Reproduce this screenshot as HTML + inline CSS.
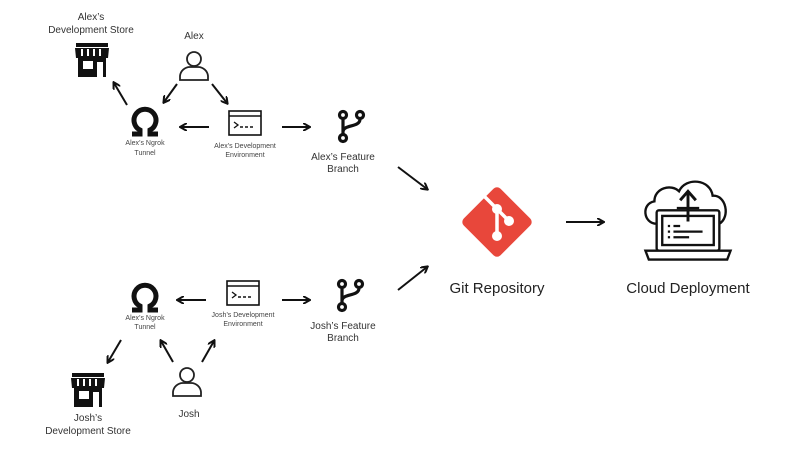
<!DOCTYPE html>
<html><head><meta charset="utf-8"><style>
html,body{margin:0;padding:0;background:#fff;}
svg{display:block;font-family:"Liberation Sans",sans-serif;}
.l{font-size:10px;fill:#333;text-anchor:middle}
.s{font-size:7px;fill:#444;text-anchor:middle}
.b{font-size:15px;fill:#222;text-anchor:middle}
.a{stroke:#111;stroke-width:2;fill:none;marker-end:url(#ah)}
</style></head><body>
<svg width="800" height="450" viewBox="0 0 800 450">
<defs>
<marker id="ah" markerWidth="8" markerHeight="8" refX="6" refY="4" orient="auto" markerUnits="userSpaceOnUse"><path d="M0,0 L7,4 L0,8" fill="none" stroke="#111" stroke-width="2"/></marker>
<g id="store">
 <rect x="-16" y="-17" width="32" height="4" fill="#111"/>
 <path d="M-17,-12 H17 L16,-2 H-16 Z" fill="#111"/>
 <path d="M-10,-11 V-4 M-4,-11 V-4 M2,-11 V-4 M8,-11 V-4" stroke="#fff" stroke-width="2"/>
 <rect x="-14" y="-2" width="28" height="19" fill="#111"/>
 <rect x="-9" y="1" width="10" height="8" fill="#fff"/>
 <rect x="5" y="2" width="6" height="15" fill="#fff"/>
</g>
<g id="person" fill="none" stroke="#222" stroke-width="1.8">
 <circle cx="0" cy="-7" r="7"/>
 <path d="M-14,14 V10 A10,10 0 0 1 -4,1 H4 A10,10 0 0 1 14,10 V14 Z"/>
</g>
<g id="omega">
 <path d="M-13,14 H-5 V10 A11,11 0 1 1 5,10 V14 H13" fill="none" stroke="#111" stroke-width="5"/>
</g>
<g id="term" fill="none" stroke="#111" stroke-width="1.6">
 <rect x="-16" y="-12" width="32" height="24"/>
 <line x1="-16" y1="-7" x2="16" y2="-7"/>
 <path d="M-11,-1 L-7,2 L-11,5" stroke-width="1.3"/>
 <path d="M-5,4 H-2 M0,4 H3 M5,4 H8" stroke-width="1.6"/>
</g>
<g id="branch" fill="none" stroke="#111" stroke-width="3.2">
 <circle cx="-8" cy="-11" r="3.5"/>
 <circle cx="9" cy="-11" r="3.5"/>
 <circle cx="-8" cy="12" r="3.5"/>
 <path d="M-8,-7 V8 M9,-7 C9,2 -8,-2 -8,6"/>
</g>
</defs>

<text class="l" x="91" y="20">Alex’s</text>
<text class="l" x="91" y="33">Development Store</text>
<use href="#store" x="92" y="60"/>
<text class="l" x="194" y="39">Alex</text>
<use href="#person" x="194" y="66"/>
<use href="#omega" x="145" y="120"/>
<use href="#term" x="245" y="123"/>
<text class="s" x="145" y="145">Alex’s Ngrok</text>
<text class="s" x="145" y="155">Tunnel</text>
<text class="s" x="245" y="148">Alex’s Development</text>
<text class="s" x="245" y="157">Environment</text>
<use href="#branch" x="351" y="126"/>
<text class="l" x="343" y="160">Alex’s Feature</text>
<text class="l" x="343" y="172">Branch</text>
<line class="a" x1="177" y1="84" x2="164" y2="102"/>
<line class="a" x1="212" y1="84" x2="227" y2="103"/>
<line class="a" x1="127" y1="105" x2="114" y2="83"/>
<line class="a" x1="209" y1="127" x2="181" y2="127"/>
<line class="a" x1="282" y1="127" x2="309" y2="127"/>
<line class="a" x1="398" y1="167" x2="427" y2="189"/>

<use href="#omega" x="145" y="296"/>
<use href="#term" x="243" y="293"/>
<text class="s" x="145" y="320">Alex’s Ngrok</text>
<text class="s" x="145" y="329">Tunnel</text>
<text class="s" x="243" y="317">Josh’s Development</text>
<text class="s" x="243" y="326">Environment</text>
<use href="#branch" x="350" y="295"/>
<text class="l" x="343" y="329">Josh’s Feature</text>
<text class="l" x="343" y="341">Branch</text>
<line class="a" x1="206" y1="300" x2="178" y2="300"/>
<line class="a" x1="282" y1="300" x2="309" y2="300"/>
<line class="a" x1="398" y1="290" x2="427" y2="267"/>
<line class="a" x1="121" y1="340" x2="108" y2="362"/>
<line class="a" x1="173" y1="362" x2="161" y2="341"/>
<line class="a" x1="202" y1="362" x2="214" y2="341"/>
<use href="#store" x="88" y="390"/>
<use href="#person" x="187" y="382"/>
<text class="l" x="189" y="417">Josh</text>
<text class="l" x="88" y="421">Josh’s</text>
<text class="l" x="88" y="434">Development Store</text>

<g transform="translate(497,222)">
 <rect x="-26" y="-26" width="52" height="52" rx="5" transform="rotate(45)" fill="#e8473b"/>
 <g stroke="#fff" stroke-width="3.5" fill="none">
  <path d="M-14,-27 L0,-13 V14 M0,-13 L12,-1"/>
 </g>
 <circle cx="0" cy="-13" r="5" fill="#fff"/>
 <circle cx="0" cy="14" r="5" fill="#fff"/>
 <circle cx="12" cy="-1" r="5" fill="#fff"/>
</g>
<text class="b" x="497" y="293">Git Repository</text>
<line class="a" x1="566" y1="222" x2="603" y2="222"/>

<g transform="translate(688,226) scale(1.12)" fill="none" stroke="#111" stroke-width="2.1">
 <path d="M-28,-2 C-40,-2 -42,-20 -30,-22 C-30,-34 -15,-38 -8,-31 C-2,-44 20,-42 22,-27 C34,-28 38,-8 28,-2"/>
 <rect x="-28" y="-14" width="56" height="36" rx="2" fill="#fff"/>
 <rect x="-23" y="-9" width="46" height="26"/>
 <path d="M-38,22 H38 L35,30 H-35 Z" fill="#fff"/>
 <path d="M0,-4 V-30 M-7,-23 L0,-31 L7,-23" stroke-width="2.6"/>
 <path d="M-10,-16 H10" />
 <path d="M-18,0 h2 M-13,0 h6 M-18,5 h2 M-13,5 h26 M-18,10 h2 M-13,10 h14" stroke-width="2"/>
</g>
<text class="b" x="688" y="293">Cloud Deployment</text>
</svg>
</body></html>
